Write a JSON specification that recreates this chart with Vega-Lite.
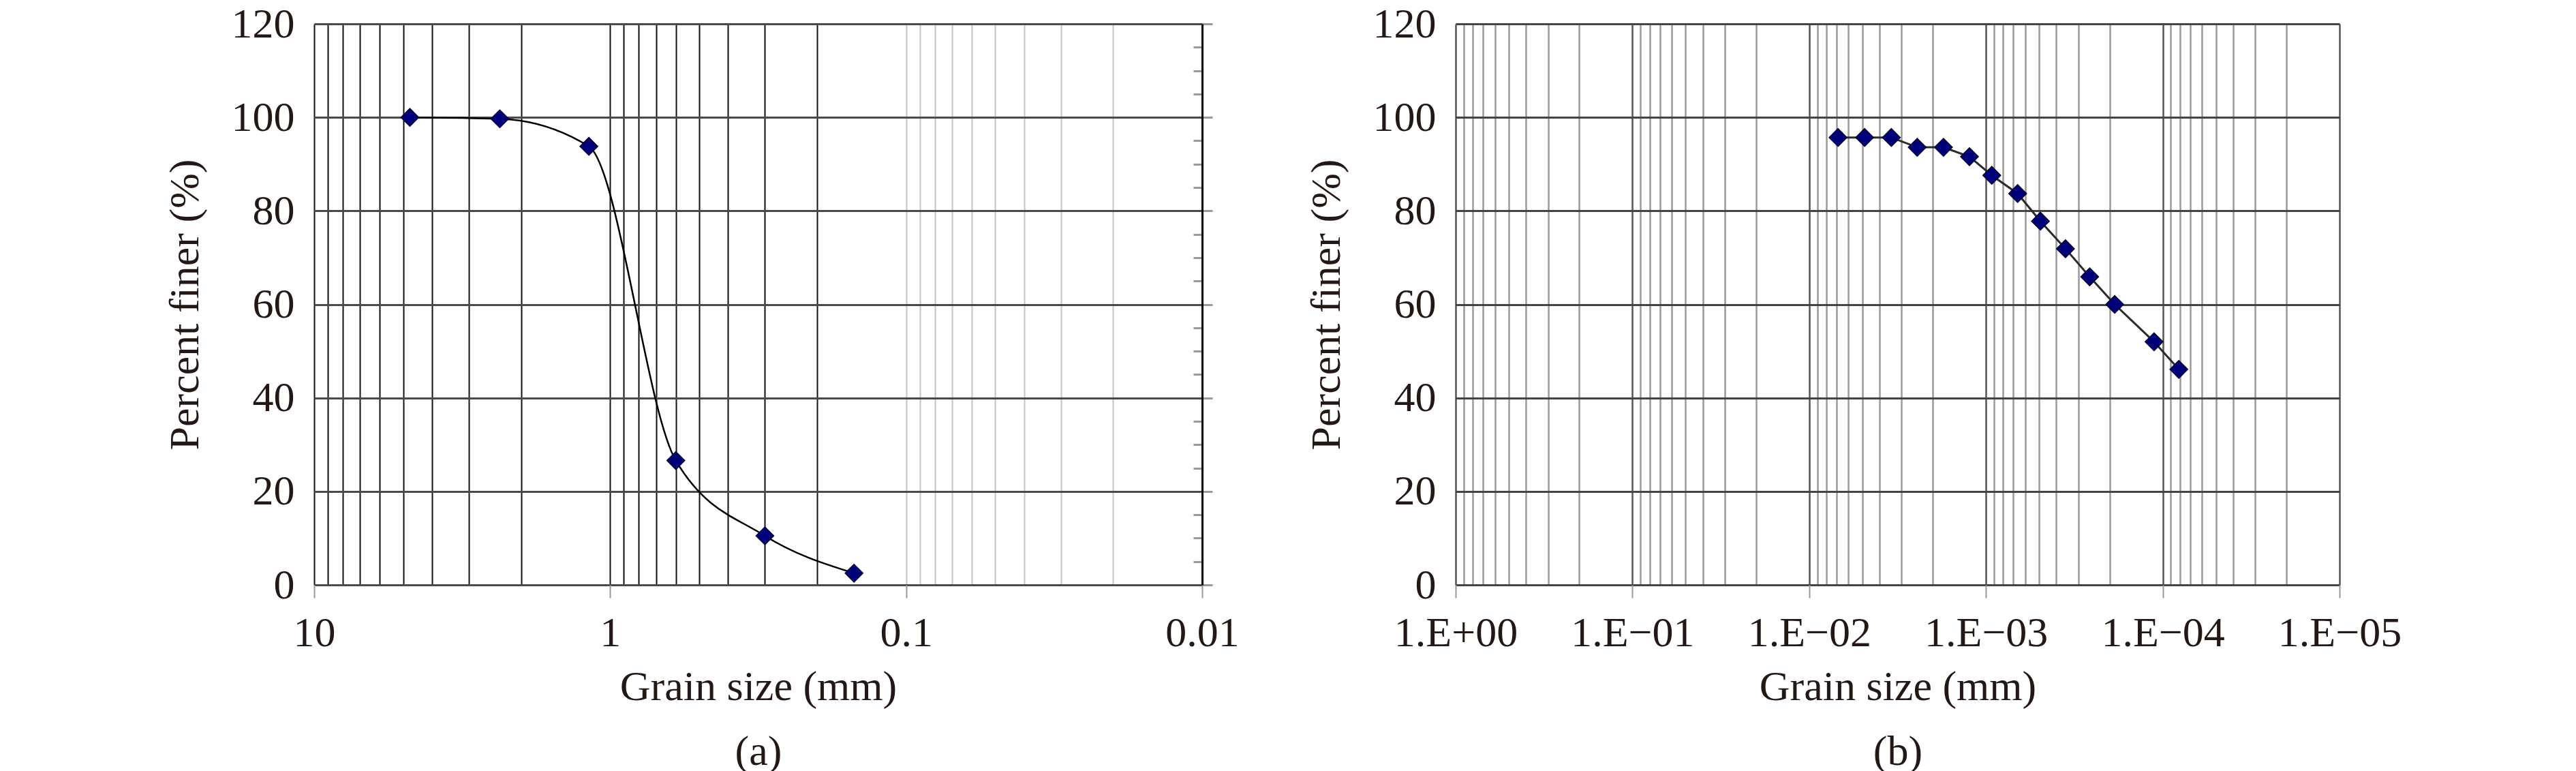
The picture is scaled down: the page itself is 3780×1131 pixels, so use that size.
{
  "$schema": "https://vega.github.io/schema/vega-lite/v6.json",
  "background": "white",
  "padding": {"left": 240, "top": 4, "right": 0, "bottom": 0},
  "spacing": 96,
  "config": {
    "view": {"stroke": null},
    "font": "Liberation Serif",
    "axis": {
      "labelFont": "Liberation Serif",
      "titleFont": "Liberation Serif",
      "labelColor": "#231815",
      "titleColor": "#231815",
      "labelFontSize": 62,
      "titleFontSize": 62,
      "titleFontWeight": "normal",
      "labelLimit": 600
    }
  },
  "datasets": {
    "a": [
      {"size": 4.75, "finer": 100.0},
      {"size": 2.36, "finer": 99.7},
      {"size": 1.18, "finer": 93.8},
      {"size": 0.6, "finer": 26.6},
      {"size": 0.3, "finer": 10.5},
      {"size": 0.15, "finer": 2.5}
    ],
    "b": [
      {"size": 0.00687, "finer": 95.7},
      {"size": 0.00486, "finer": 95.7},
      {"size": 0.00343, "finer": 95.7},
      {"size": 0.00245, "finer": 93.6},
      {"size": 0.00174, "finer": 93.6},
      {"size": 0.00124, "finer": 91.6},
      {"size": 0.000927, "finer": 87.6},
      {"size": 0.000662, "finer": 83.7},
      {"size": 0.000492, "finer": 77.8},
      {"size": 0.000355, "finer": 71.9},
      {"size": 0.000259, "finer": 65.9},
      {"size": 0.000187, "finer": 60.0},
      {"size": 0.000112, "finer": 52.0},
      {"size": 0.0000811, "finer": 46.1}
    ]
  },
  "hconcat": [
    {
      "width": 1303,
      "height": 823,
      "data": {"name": "a"},
      "resolve": {"axis": {"y": "independent"}},
      "layer": [
        {
          "mark": {"type": "line", "interpolate": "monotone", "color": "#000000", "strokeWidth": 2.5},
          "encoding": {
            "x": {
              "field": "size", "type": "quantitative",
              "scale": {"type": "log", "domain": [0.01, 10], "reverse": true, "nice": false},
              "axis": {
                "values": [0.01,0.02,0.03,0.04,0.05,0.06,0.07,0.08,0.09,0.1,0.2,0.3,0.4,0.5,0.6,0.7,0.8,0.9,1,2,3,4,5,6,7,8,9,10],
                "domain": false,
                "grid": true,
                "gridColor": {"condition": {"test": "datum.value < 0.15", "value": "#c4c4c4"}, "value": "#111111"},
                "gridWidth": 2,
                "ticks": true,
                "tickSize": 19,
                "tickWidth": 2,
                "tickColor": "#999999",
                "tickOpacity": {"condition": {"test": "abs(log(datum.value)/LN10 - round(log(datum.value)/LN10)) < 0.001", "value": 1}, "value": 0},
                "labelPadding": 21,
                "labelOverlap": false,
                "labelFlush": false,
                "labelBound": false,
                "labelExpr": "abs(log(datum.value)/LN10 - round(log(datum.value)/LN10)) < 0.001 ? datum.label : ''",
                "title": ["Grain size (mm)", "(a)"],
                "titleLineHeight": 95,
                "titlePadding": 18
              }
            },
            "y": {
              "field": "finer", "type": "quantitative",
              "scale": {"domain": [0, 120], "nice": false},
              "axis": {
                "orient": "left",
                "values": [0, 20, 40, 60, 80, 100, 120],
                "domain": false,
                "ticks": false,
                "grid": true,
                "gridColor": "#4a4a4a",
                "gridWidth": 3,
                "labelPadding": 29,
                "labelOffset": 0,
                "title": "Percent finer (%)",
                "titlePadding": 36
              }
            }
          }
        },
        {
          "mark": {"type": "point", "shape": "diamond", "filled": true, "size": 680, "fill": "#00007a", "stroke": "#000033", "strokeWidth": 1.5, "opacity": 1},
          "encoding": {
            "x": {"field": "size", "type": "quantitative"},
            "y": {
              "field": "finer", "type": "quantitative",
              "axis": {
                "orient": "right",
                "values": [0,5,10,15,20,25,30,35,40,45,50,55,60,65,70,75,80,85,90,95,100,105,110,115,120],
                "grid": false,
                "labels": false,
                "title": null,
                "domain": true,
                "domainColor": "#000000",
                "domainWidth": 3,
                "ticks": true,
                "tickColor": "#9a9a9a",
                "tickWidth": 3,
                "tickSize": {"condition": {"test": "datum.value % 20 === 0", "value": 15}, "value": -13}
              }
            }
          }
        }
      ]
    },
    {
      "width": 1297,
      "height": 823,
      "data": {"name": "b"},
      "layer": [
        {
          "mark": {"type": "line", "color": "#2b2b2b", "strokeWidth": 3},
          "encoding": {
            "x": {
              "field": "size", "type": "quantitative",
              "scale": {"type": "log", "domain": [0.00001, 1], "reverse": true, "nice": false},
              "axis": {
                "values": [0.00001,0.00002,0.00003,0.00004,0.00005,0.00006,0.00007,0.00008,0.00009,0.0001,0.0002,0.0003,0.0004,0.0005,0.0006,0.0007,0.0008,0.0009,0.001,0.002,0.003,0.004,0.005,0.006,0.007,0.008,0.009,0.01,0.02,0.03,0.04,0.05,0.06,0.07,0.08,0.09,0.1,0.2,0.3,0.4,0.5,0.6,0.7,0.8,0.9,1],
                "domain": false,
                "grid": true,
                "gridColor": {"condition": {"test": "abs(log(datum.value)/LN10 - round(log(datum.value)/LN10)) < 0.001", "value": "#555555"}, "value": "#9a9a9a"},
                "gridWidth": 2.5,
                "ticks": true,
                "tickSize": 19,
                "tickWidth": 2,
                "tickColor": "#999999",
                "tickOpacity": {"condition": {"test": "abs(log(datum.value)/LN10 - round(log(datum.value)/LN10)) < 0.001", "value": 1}, "value": 0},
                "labelPadding": 21,
                "labelOverlap": false,
                "labelFlush": false,
                "labelBound": false,
                "labelExpr": "abs(log(datum.value)/LN10 - round(log(datum.value)/LN10)) < 0.001 ? ('1.E' + (datum.value >= 0.5 ? '+00' : '\u22120' + round(-log(datum.value)/LN10))) : ''",
                "title": ["Grain size (mm)", "(b)"],
                "titleLineHeight": 95,
                "titlePadding": 18
              }
            },
            "y": {
              "field": "finer", "type": "quantitative",
              "scale": {"domain": [0, 120], "nice": false},
              "axis": {
                "values": [0, 20, 40, 60, 80, 100, 120],
                "domain": false,
                "ticks": false,
                "grid": true,
                "gridColor": "#444444",
                "gridWidth": 3,
                "labelPadding": 29,
                "labelOffset": 0,
                "title": "Percent finer (%)",
                "titlePadding": 36
              }
            }
          }
        },
        {
          "mark": {"type": "point", "shape": "diamond", "filled": true, "size": 680, "fill": "#00007a", "stroke": "#000033", "strokeWidth": 1.5, "opacity": 1},
          "encoding": {
            "x": {"field": "size", "type": "quantitative"},
            "y": {"field": "finer", "type": "quantitative"}
          }
        }
      ]
    }
  ]
}
